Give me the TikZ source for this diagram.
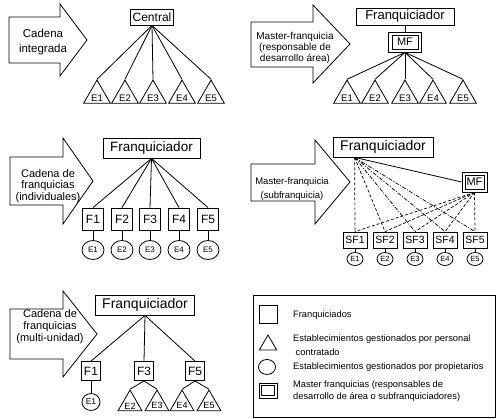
\documentclass[tikz,border=0pt]{standalone}
\usepackage{fontspec}
\setmainfont{Liberation Sans}
\usetikzlibrary{shapes.geometric}
\newcommand\myfs[2]{\fontsize{#1}{#2}\selectfont}
\begin{document}
\begin{tikzpicture}[x=1pt,y=-1pt,
  ln/.style={line width=0.8pt},
  dl/.style={line width=0.7pt, dash pattern=on 3pt off 2pt},
  dd/.style={line width=0.7pt, dash pattern=on 4pt off 1.5pt on 1pt off 1.5pt},
  arr/.style={draw, line width=0.8pt, line join=miter},
  bx/.style={draw, line width=0.8pt, inner sep=0pt},
  inbx/.style={draw, line width=0.7pt, inner sep=0pt},
  tri/.style={draw, line width=0.8pt, regular polygon, regular polygon sides=3, inner sep=0pt, minimum size=#1},
  elp/.style={draw, line width=0.8pt, ellipse, inner sep=0pt},
  atxt/.style={align=center, inner sep=0pt}
]
\fill[white] (0,0) rectangle (500,419);
\useasboundingbox (0,0) rectangle (500,419);

% ---------- Panel 1: Cadena integrada ----------
\draw[arr] (9,17) -- (60,17) -- (60,4) -- (87,40) -- (60,76) -- (60,63) -- (9,63) -- cycle;
\node[atxt, font=\myfs{11.5}{15}] (t1) at (43,42) {Cadena\\integrada};
\node[bx, minimum width=43pt, minimum height=16pt, font=\myfs{12}{14}] (central) at (152,17) {Central};
\foreach \i/\x in {1/97,2/125,3/153,4/182,5/211}{
  \node[tri=31pt, label={[font=\myfs{9.5}{10}, yshift=-2.5pt]center:E\i}] (a\i) at (\x,95.6) {};
  \draw[ln] (central.south) -- (a\i.corner 1);
}

% ---------- Panel 2: Master-franquicia (area) ----------
\draw[arr] (251,22) -- (313,22) -- (313,5) -- (350,44) -- (313,83) -- (313,67) -- (251,67) -- cycle;
\node[atxt, font=\myfs{10}{11}] (t2) at (295,48) {Master-franquicia\\(responsable de\\desarrollo área)};
\node[bx, minimum width=98pt, minimum height=17pt, font=\myfs{13}{14}] (fr2) at (405,16.5) {Franquiciador};
\node[bx, minimum width=33pt, minimum height=20pt, font=\myfs{11}{12}] (mf2) at (405,42) {MF};
\node[inbx, minimum width=26pt, minimum height=14pt] (mf2in) at (mf2.center) {};
\draw[ln] (fr2.south) -- (mf2.north);
\foreach \i/\x in {1/347,2/375,3/405,4/433,5/463}{
  \node[tri=31pt, label={[font=\myfs{9.5}{10}, yshift=-2.5pt]center:E\i}] (b\i) at (\x,95.6) {};
  \draw[ln] (mf2.south) -- (b\i.corner 1);
}

% ---------- Panel 3: Cadena de franquicias (individuales) ----------
\draw[arr] (10,157) -- (63,157) -- (63,138) -- (93,181) -- (63,224) -- (63,205) -- (10,205) -- cycle;
\node[atxt, font=\myfs{11}{11.5}] (t3) at (48,186) {Cadena de\\franquicias\\(individuales)};
\node[bx, minimum width=97pt, minimum height=20pt, font=\myfs{13.5}{14}] (fr3) at (151.5,148) {Franquiciador};
\foreach \i/\x in {1/93,2/122,3/150,4/179,5/208}{
  \node[bx, minimum width=21pt, minimum height=22pt, font=\myfs{12}{13}] (f\i) at (\x,219) {F\i};
  \node[elp, minimum width=22pt, minimum height=19pt, font=\myfs{8}{9}] (c\i) at (\x,250) {E\i};
  \draw[ln] (fr3.south) -- (f\i.north);
  \draw[ln] (f\i.south) -- (c\i.north);
}

% ---------- Panel 4: Master-franquicia (subfranquicia) ----------
\draw[arr] (251,164) -- (315,164) -- (315,140) -- (350,182) -- (315,224) -- (315,201) -- (251,201) -- cycle;
\node[atxt, font=\myfs{9.5}{13.5}] (t4) at (292,189) {Master-franquicia\\(subfranquicia)};
\node[bx, minimum width=100pt, minimum height=20pt, font=\myfs{14}{15}] (fr4) at (383,147) {Franquiciador};
\coordinate (hub) at ([xshift=22pt]fr4.south west);
\node[bx, minimum width=25pt, minimum height=20pt, font=\myfs{11}{12}] (mf4) at (474.5,182) {MF};
\node[inbx, minimum width=19pt, minimum height=14pt] (mf4in) at (mf4.center) {};
\draw[ln] (hub) -- (mf4.west);
\foreach \i/\x in {1/355,2/385,3/415,4/445,5/475}{
  \node[bx, minimum width=24pt, minimum height=16pt, font=\myfs{10.5}{11}] (s\i) at (\x,240) {SF\i};
  \node[elp, minimum width=16pt, minimum height=13pt, font=\myfs{7.5}{8}] (d\i) at (\x,259) {E\i};
  \draw[ln] (s\i.south) -- (d\i.north);
  \draw[dl] (mf4.south) -- (s\i.north);
}
\draw[dl] (hub) -- (s1.north);
\draw[dl] (hub) -- (s2.north);
\draw[dd] (hub) -- (s3.north);
\draw[dd] (hub) -- (s4.north);
\draw[dd] (hub) -- (s5.north);

% ---------- Panel 5: Cadena de franquicias (multi-unidad) ----------
\draw[arr] (10,309) -- (63,309) -- (63,291) -- (97,334) -- (63,377) -- (63,359) -- (10,359) -- cycle;
\node[atxt, font=\myfs{11}{12}] (t5) at (50,327) {Cadena de\\franquicias\\(multi-unidad)};
\node[bx, minimum width=99pt, minimum height=20pt, font=\myfs{14}{15}] (fr5) at (145,305) {Franquiciador};
\foreach \n/\x in {1/91,3/144,5/195}{
  \node[bx, minimum width=19pt, minimum height=19pt, font=\myfs{12}{13}] (g\n) at (\x,371) {F\n};
  \draw[ln] (fr5.south) -- (g\n.north);
}
\node[elp, minimum width=18pt, minimum height=17pt, font=\myfs{8.5}{9}] (e1) at (91,402) {E1};
\draw[ln] (g1.south) -- (e1.north);
\foreach \i/\x/\p in {2/130/3,3/157/3,4/182/5,5/209/5}{
  \node[tri=27.7pt, label={[font=\myfs{9}{10}, yshift=-2pt]center:E\i}] (t\i x) at (\x,403.9) {};
  \draw[ln] (g\p.south) -- (t\i x.corner 1);
}

% ---------- Legend ----------
\node[draw, line width=0.8pt, inner sep=0pt, minimum width=242pt, minimum height=122pt] (legend) at (374,356) {};
\node[bx, minimum width=18pt, minimum height=18pt] (lsq) at (268,314) {};
\node[tri=20pt] (ltri) at (268,345) {};
\node[elp, minimum width=17pt, minimum height=15pt] (lcirc) at (267,367) {};
\node[bx, minimum width=18pt, minimum height=15pt] (ldbl) at (268,390.5) {};
\node[inbx, minimum width=12.5pt, minimum height=9.5pt] (ldblin) at (ldbl.center) {};
\node[anchor=west, inner sep=0pt, font=\myfs{9.3}{12}] (l1) at (293,315) {Franquiciados};
\node[anchor=west, inner sep=0pt, align=left, font=\myfs{9.3}{14}] (l2) at (293,345) {Establecimientos gestionados por personal\\\hspace{2.5pt}contratado};
\node[anchor=west, inner sep=0pt, font=\myfs{9.3}{12}] (l3) at (293,367) {Establecimientos gestionados por propietarios};
\node[anchor=west, inner sep=0pt, align=left, font=\myfs{9.3}{12.5}] (l4) at (293,391) {Master franquicias (responsables de\\desarrollo de área o subfranquiciadores)};
\end{tikzpicture}
\end{document}
